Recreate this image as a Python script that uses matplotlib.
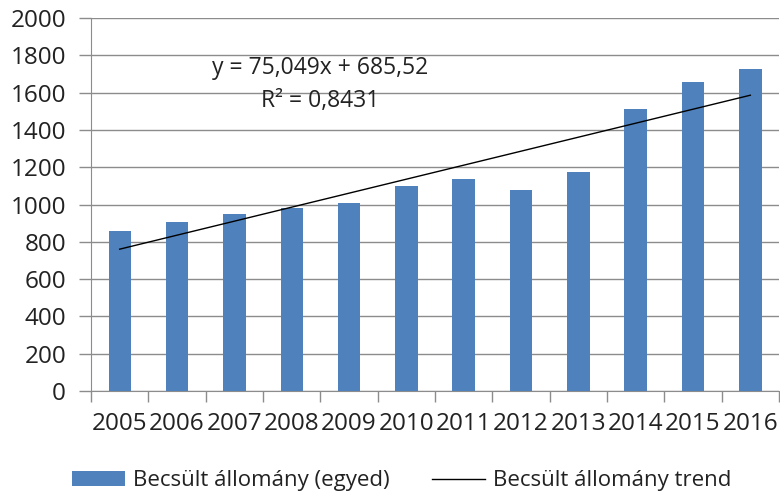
import matplotlib.pyplot as plt
import numpy as np

years = ["2005", "2006", "2007", "2008", "2009", "2010",
         "2011", "2012", "2013", "2014", "2015", "2016"]
allomany = [858, 906, 948, 982, 1008, 1100, 1137, 1078, 1175, 1512, 1657, 1727]
slope = 75.049
intercept = 685.52
eq_label = "y = 75,049x + 685,52"
r2_label = "R\u00b2 = 0,8431"

plt.rcParams['font.family'] = ['Open Sans', 'DejaVu Sans']

fig = plt.figure(figsize=(7.8, 4.94), dpi=100)
ax = fig.add_axes([0.1167, 0.2085, 0.882, 0.755])

x = np.arange(len(years))
bars = ax.bar(x, allomany, width=0.39, color="#4F81BD", zorder=3)

# linear trend, x = 1..12 like in Excel
trend = slope * (x + 1) + intercept
line, = ax.plot(x, trend, color="black", lw=1, zorder=4)

ax.text(3.5, 1730, eq_label, ha="center", va="center", fontsize=16.5, color="#222222")
ax.text(3.5, 1555, r2_label, ha="center", va="center", fontsize=16.5, color="#222222")

ax.set_xlim(-0.5, len(years) - 0.5)
ax.set_ylim(0, 2000)
ax.set_yticks(range(0, 2001, 200))
ax.yaxis.grid(True, color="#8c8c8c", lw=1, zorder=0)

ax.set_xticks(x)
ax.set_xticklabels(years, fontsize=17.5, color="#222222")
ax.tick_params(axis="x", length=0, pad=15)
ax.set_xticks(np.arange(-0.5, len(years), 1), minor=True)
ax.tick_params(axis="x", which="minor", length=8, color="#8c8c8c", width=1)
ax.tick_params(axis="y", labelsize=17.5, labelcolor="#222222", length=9,
               color="#8c8c8c", width=1, pad=9)

for s in ["top", "right"]:
    ax.spines[s].set_visible(False)
ax.spines["left"].set_color("#8c8c8c")
ax.spines["bottom"].set_color("#8c8c8c")

fig.legend([bars, line], ["Becsült állomány (egyed)", "Becsült állomány trend"],
           loc="lower center", bbox_to_anchor=(0.515, -0.035), ncol=2, frameon=False,
           fontsize=16, handlelength=2.4, handleheight=0.6, columnspacing=1.9,
           handletextpad=0.35, labelcolor="#222222")

fig.savefig("out.png", dpi=100)
